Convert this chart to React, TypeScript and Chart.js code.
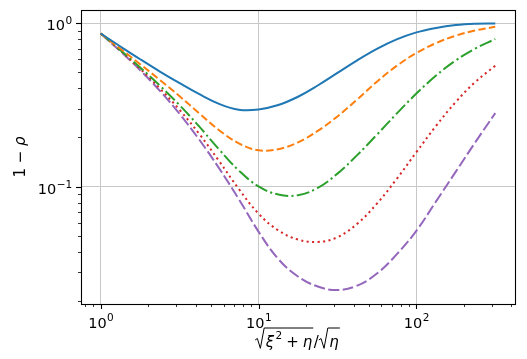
import React, { useEffect, useRef } from "react";
import { Chart, registerables } from "chart.js";

Chart.register(...registerables);

// x = sqrt(xi^2 + eta) / sqrt(eta), sampled evenly on the log axis
const X_VALUES = [1, 1.3335, 1.7783, 2.3714, 3.1623, 4.217, 5.6234, 7.4989, 10, 13.335, 17.783, 23.714, 31.623, 42.17, 56.234, 74.989, 100, 133.35, 177.83, 237.14, 316.23];

const SERIES_BLUE = [0.865, 0.7204, 0.6021, 0.5063, 0.4298, 0.3678, 0.3213, 0.296, 0.297, 0.316, 0.3549, 0.4159, 0.4966, 0.5927, 0.6966, 0.7962, 0.879, 0.9365, 0.975, 0.9931, 0.998];
const SERIES_ORANGE = [0.865, 0.698, 0.5616, 0.4499, 0.3573, 0.2806, 0.2216, 0.1843, 0.1671, 0.1696, 0.1868, 0.2195, 0.2689, 0.3419, 0.4391, 0.5481, 0.6572, 0.7566, 0.8393, 0.9033, 0.9512];
const SERIES_GREEN = [0.865, 0.6841, 0.5363, 0.415, 0.3149, 0.2328, 0.1691, 0.1256, 0.1004, 0.0895, 0.0887, 0.0982, 0.1202, 0.156, 0.208, 0.2797, 0.3713, 0.4784, 0.592, 0.7015, 0.8006];
const SERIES_RED = [0.865, 0.6792, 0.5256, 0.3988, 0.2947, 0.2099, 0.1435, 0.0968, 0.0684, 0.054, 0.0475, 0.0459, 0.0491, 0.0593, 0.0787, 0.1114, 0.1625, 0.2356, 0.33, 0.4388, 0.5492];
const SERIES_PURPLE = [0.865, 0.673, 0.516, 0.3858, 0.2786, 0.1936, 0.1297, 0.0839, 0.0531, 0.0361, 0.0282, 0.0245, 0.0233, 0.0248, 0.0294, 0.0385, 0.0537, 0.0813, 0.1236, 0.1879, 0.2818];

const X_MAJOR = [1, 10, 100];
const X_MAJOR_SUP = ["0", "1", "2"];
const Y_MAJOR = [0.1, 1];
const Y_MAJOR_SUP = ["−1", "0"];
const TICK_BASE = "10";
const X_MINOR = [0.8, 0.9, 2, 3, 4, 5, 6, 7, 8, 9, 20, 30, 40, 50, 60, 70, 80, 90, 200, 300, 400];
const Y_MINOR = [0.02, 0.03, 0.04, 0.05, 0.06, 0.07, 0.08, 0.09, 0.2, 0.3, 0.4, 0.5, 0.6, 0.7, 0.8, 0.9];

const X_LIMITS = [0.75, 421.7];
const Y_LIMITS = [0.01915, 1.205];

const Y_LABEL = ["1 − ", "ρ"];

const FONT = "'DejaVu Sans', sans-serif";
const MAIN = `14.5px ${FONT}`;
const SUP = `10.5px ${FONT}`;
const ITAL = `italic 15px ${FONT}`;
const REG = `15px ${FONT}`;

function drawPower(ctx: CanvasRenderingContext2D, sup: string, x: number, base: number, align: "center" | "right", raise: number) {
  ctx.font = MAIN;
  const w1 = ctx.measureText(TICK_BASE).width;
  ctx.font = SUP;
  const w2 = ctx.measureText(sup).width;
  const total = w1 + w2;
  const x0 = align === "center" ? x - total / 2 : x - total;
  ctx.textAlign = "left";
  ctx.textBaseline = "alphabetic";
  ctx.font = MAIN;
  ctx.fillText(TICK_BASE, x0, base);
  ctx.font = SUP;
  ctx.fillText(sup, x0 + w1 + 0.5, base - raise);
}

const decorPlugin = {
  id: "decor",
  afterDraw(chart: any) {
    const { ctx, chartArea: a, scales } = chart;
    const xs = scales.x;
    const ys = scales.y;
    ctx.save();
    ctx.strokeStyle = "#000";
    ctx.fillStyle = "#000";
    const xtick = (vals: number[], len: number, w: number) => {
      ctx.lineWidth = w;
      vals.forEach((v) => {
        if (v < X_LIMITS[0] || v > X_LIMITS[1]) return;
        const px = Math.round(xs.getPixelForValue(v)) + 0.5;
        ctx.beginPath();
        ctx.moveTo(px, a.bottom);
        ctx.lineTo(px, a.bottom + len);
        ctx.stroke();
      });
    };
    const ytick = (vals: number[], len: number, w: number) => {
      ctx.lineWidth = w;
      vals.forEach((v) => {
        if (v < Y_LIMITS[0] || v > Y_LIMITS[1]) return;
        const py = Math.round(ys.getPixelForValue(v)) + 0.5;
        ctx.beginPath();
        ctx.moveTo(a.left, py);
        ctx.lineTo(a.left - len, py);
        ctx.stroke();
      });
    };
    xtick(X_MAJOR, 5, 1.1);
    xtick(X_MINOR, 3, 0.8);
    ytick(Y_MAJOR, 5, 1.1);
    ytick(Y_MINOR, 3, 0.8);
    ctx.lineWidth = 1.1;
    ctx.strokeRect(a.left + 0.5, a.top + 0.5, a.right - a.left, a.bottom - a.top);

    // tick labels
    X_MAJOR.forEach((v, i) => {
      drawPower(ctx, X_MAJOR_SUP[i], xs.getPixelForValue(v), a.bottom + 24.3, "center", 7.3);
    });
    Y_MAJOR.forEach((v, i) => {
      drawPower(ctx, Y_MAJOR_SUP[i], a.left - 9.3, ys.getPixelForValue(v) + 7, "right", 6);
    });

    // y label
    ctx.save();
    const cy = (a.top + a.bottom) / 2;
    ctx.translate(25, cy);
    ctx.rotate(-Math.PI / 2);
    ctx.textBaseline = "alphabetic";
    ctx.font = REG;
    const w1 = ctx.measureText(Y_LABEL[0]).width;
    ctx.font = ITAL;
    const w2 = ctx.measureText(Y_LABEL[1]).width;
    const x0 = -(w1 + w2) / 2;
    ctx.textAlign = "left";
    ctx.font = REG;
    ctx.fillText(Y_LABEL[0], x0, 0);
    ctx.font = ITAL;
    ctx.fillText(Y_LABEL[1], x0 + w1, 0);
    ctx.restore();

    // x label: sqrt(xi^2 + eta)/sqrt(eta)
    type Piece = { t: string; f: string; dy?: number; gapL?: number; gapR?: number; rad?: number; bar?: number };
    const pieces: Piece[] = [
      { t: "", f: REG, rad: 1 },
      { t: "ξ", f: ITAL, bar: 1 },
      { t: "2", f: SUP, dy: -8, gapL: 1.5, bar: 1 },
      { t: "+", f: REG, gapL: 4, gapR: 4, bar: 1 },
      { t: "η", f: ITAL, bar: 1 },
      { t: "/", f: REG, gapL: 1.5 },
      { t: "", f: REG, rad: 2 },
      { t: "η", f: ITAL, bar: 2 },
    ];
    const RAD_W = 10.5;
    let total = 0;
    const widths = pieces.map((p) => {
      ctx.font = p.f;
      const w = (p.rad ? RAD_W : ctx.measureText(p.t).width) + (p.gapL || 0) + (p.gapR || 0);
      total += w;
      return w;
    });
    const cx = (a.left + a.right) / 2 - 1;
    const base = 346.5;
    const barY = 328;
    let px = cx - total / 2;
    const bars: Record<number, [number, number]> = {};
    ctx.textBaseline = "alphabetic";
    ctx.textAlign = "left";
    ctx.lineWidth = 1;
    ctx.lineJoin = "miter";
    pieces.forEach((p, i) => {
      if (p.rad) {
        ctx.beginPath();
        ctx.moveTo(px, base - 6.5);
        ctx.lineTo(px + 2.2, base - 8);
        ctx.lineTo(px + 5.2, base + 1.8);
        ctx.lineTo(px + 9, barY);
        ctx.stroke();
        bars[p.rad] = [px + 9, px + 9];
      } else {
        ctx.font = p.f;
        ctx.fillText(p.t, px + (p.gapL || 0), base + (p.dy || 0));
      }
      if (p.bar && bars[p.bar]) bars[p.bar][1] = px + widths[i] + 1;
      px += widths[i];
    });
    Object.values(bars).forEach(([s, e]) => {
      ctx.beginPath();
      ctx.moveTo(s, barY);
      ctx.lineTo(e, barY);
      ctx.stroke();
    });
    ctx.restore();
  },
};

export default function App() {
  const ref = useRef<HTMLCanvasElement | null>(null);
  useEffect(() => {
    if (!ref.current) return;
    const mk = (vals: number[]) => X_VALUES.map((x, i) => ({ x, y: vals[i] }));
    const series = [
      { data: SERIES_BLUE, color: "#1f77b4", dash: [] as number[] },
      { data: SERIES_ORANGE, color: "#ff7f0e", dash: [7.5, 3.3] },
      { data: SERIES_GREEN, color: "#2ca02c", dash: [13, 3.3, 2.1, 3.3] },
      { data: SERIES_RED, color: "#d62728", dash: [2.1, 3.4] },
      { data: SERIES_PURPLE, color: "#9467bd", dash: [11, 3.5] },
    ];
    const chart = new Chart(ref.current, {
      type: "line",
      data: {
        datasets: series.map((s) => ({
          data: mk(s.data),
          borderColor: s.color,
          backgroundColor: s.color,
          borderWidth: 2,
          borderDash: s.dash,
          pointRadius: 0,
          fill: false,
          tension: 0.4,
        })),
      },
      options: {
        animation: false,
        responsive: false,
        maintainAspectRatio: false,
        devicePixelRatio: 1,
        layout: { padding: { top: 10, right: 12, left: 0, bottom: 0 } },
        plugins: { legend: { display: false }, tooltip: { enabled: false } },
        scales: {
          x: {
            type: "logarithmic",
            min: X_LIMITS[0],
            max: X_LIMITS[1],
            afterFit: (s: any) => {
              s.height = 55;
            },
            afterBuildTicks: (s: any) => {
              s.ticks = X_MAJOR.map((v) => ({ value: v }));
            },
            border: { display: false },
            grid: { color: "#c8c8c8", lineWidth: 1, drawTicks: false },
            ticks: { display: false, autoSkip: false },
          },
          y: {
            type: "logarithmic",
            min: Y_LIMITS[0],
            max: Y_LIMITS[1],
            afterFit: (s: any) => {
              s.width = 81;
            },
            afterBuildTicks: (s: any) => {
              s.ticks = Y_MAJOR.map((v) => ({ value: v }));
            },
            border: { display: false },
            grid: { color: "#c8c8c8", lineWidth: 1, drawTicks: false },
            ticks: { display: false, autoSkip: false },
          },
        },
      },
      plugins: [decorPlugin],
    });
    return () => chart.destroy();
  }, []);
  return (
    <div style={{ position: "absolute", left: 0, top: 0, width: 527, height: 359, background: "#fff" }}>
      <canvas ref={ref} width={527} height={359} style={{ display: "block" }} />
    </div>
  );
}
